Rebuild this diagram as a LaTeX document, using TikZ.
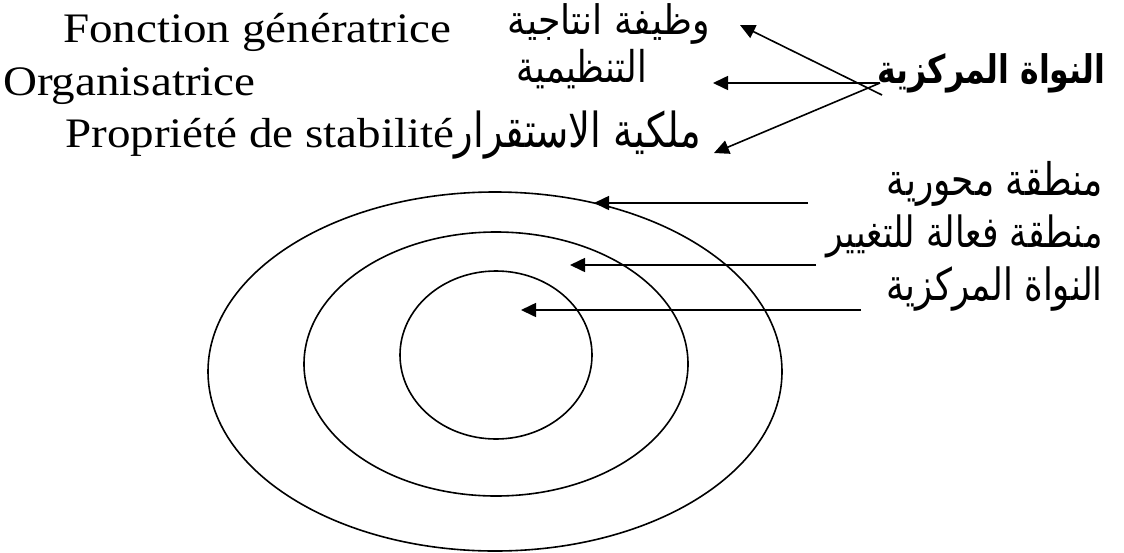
\documentclass[tikz,border=0pt]{standalone}
\usepackage{fontspec}
\usepackage{graphicx}
\setmainfont{Liberation Serif}
\newfontfamily\arabicfont[Script=Arabic]{DejaVu Sans}
\TeXXeTstate=1
\usetikzlibrary{arrows.meta,shapes.geometric}
\newcommand{\latwide}[1]{\scalebox{1.12}[1]{#1}}
\newcommand{\arfit}[3][1.25]{\scalebox{1}[#1]{\resizebox{#2}{!}{#3}}}
\begin{document}
\begin{tikzpicture}[x=1pt,y=-1pt,
  lat/.style={inner sep=0pt, anchor=base west, font=\fontsize{42}{50}\selectfont},
  ar/.style={inner sep=0pt, font=\arabicfont},
  arr/.style={-{Triangle[length=15pt,width=14pt]}, line width=1.6pt},
  ring/.style={draw, line width=1.6pt, ellipse, inner sep=0pt}]
\useasboundingbox (0,0) rectangle (1124,552);
\fill[white] (0,0) rectangle (1124,552);
% Latin labels
\node[lat] (fg) at (63,42) {\latwide{Fonction génératrice}};
\node[lat] (org) at (3,95) {\latwide{Organisatrice}};
\node[lat] (ps) at (65,147) {\latwide{Propriété de stabilité}};
% Arabic labels (top)
\node[ar, anchor=base east] (a1) at (710,34) {\arfit[1.12]{202pt}{\beginR وظيفة انتاجية\endR}};
\node[ar, anchor=base east] (a2) at (647,82) {\arfit{130pt}{\beginR التنظيمية\endR}};
\node[ar, anchor=base west] (a3) at (ps.base east) {\arfit{246pt}{\beginR ملكية الاستقرار\endR}};
\node[ar, anchor=base west, font=\arabicfont\bfseries] (b) at (877,83) {\arfit{228pt}{\beginR النواة المركزية\endR}};
% right labels
\node[ar, anchor=base east] (r1) at (1103,195) {\arfit{216pt}{\beginR منطقة محورية\endR}};
\node[ar, anchor=base east] (r2) at (1103,247) {\arfit{276pt}{\beginR منطقة فعالة للتغيير\endR}};
\node[ar, anchor=base east] (r3) at (1103,300) {\arfit{216pt}{\beginR النواة المركزية\endR}};
% rings
\node[ring, minimum width=574pt, minimum height=359pt] (outer) at (495,371.5) {};
\node[ring, minimum width=384pt, minimum height=264pt] (middle) at (496,364) {};
\node[ring, minimum width=192pt, minimum height=168pt] (inner) at (496,355) {};
% connector points
\coordinate (s1) at (882,95);  \coordinate (t1) at (740,25);
\coordinate (s2) at (880,83);  \coordinate (t2) at (713,83);
\coordinate (s3) at (880,83);  \coordinate (t3) at (714,153);
\coordinate (u1) at (808,203); \coordinate (v1) at (594,203);
\coordinate (u2) at (816,265); \coordinate (v2) at (570,265);
\coordinate (u3) at (861,310); \coordinate (v3) at (521,310);
\draw[arr] (s1) -- (t1);
\draw[arr] (s2) -- (t2);
\draw[arr] (s3) -- (t3);
\draw[arr] (u1) -- (v1);
\draw[arr] (u2) -- (v2);
\draw[arr] (u3) -- (v3);
\end{tikzpicture}
\end{document}
